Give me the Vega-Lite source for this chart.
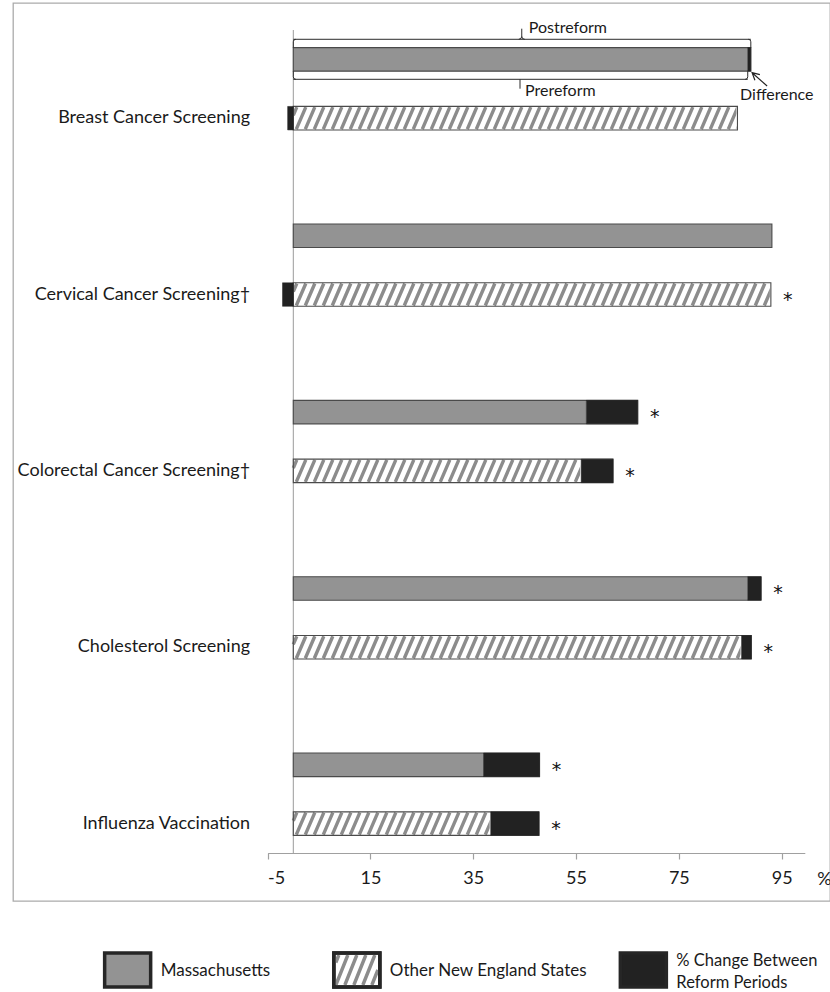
{
  "$schema": "https://vega.github.io/schema/vega-lite/v6.json",
  "padding": {"left": 12, "top": 2, "right": 0, "bottom": 0},
  "background": "white",
  "spacing": 44,
  "config": {
    "view": {"stroke": null},
    "font": "Lato",
    "axis": {"labelFont": "Lato", "titleFont": "Lato"},
    "text": {"font": "Lato"}
  },
  "datasets": {
    "bars": [
      {"cat": "Breast Cancer Screening", "grp": "Massachusetts", "base": 88.4, "c0": 88.4, "c1": 89.0, "end": 89.0, "sig": ""},
      {"cat": "Breast Cancer Screening", "grp": "Other New England States", "base": 86.4, "c0": -1.1, "c1": 0, "end": 86.4, "sig": ""},
      {"cat": "Cervical Cancer Screening†", "grp": "Massachusetts", "base": 93.1, "c0": 0, "c1": 0, "end": 93.1, "sig": ""},
      {"cat": "Cervical Cancer Screening†", "grp": "Other New England States", "base": 92.9, "c0": -2.1, "c1": 0, "end": 92.9, "sig": "*"},
      {"cat": "Colorectal Cancer Screening†", "grp": "Massachusetts", "base": 57.0, "c0": 57.0, "c1": 67.0, "end": 67.0, "sig": "*"},
      {"cat": "Colorectal Cancer Screening†", "grp": "Other New England States", "base": 56.0, "c0": 56.0, "c1": 62.2, "end": 62.2, "sig": "*"},
      {"cat": "Cholesterol Screening", "grp": "Massachusetts", "base": 88.4, "c0": 88.4, "c1": 91.0, "end": 91.0, "sig": "*"},
      {"cat": "Cholesterol Screening", "grp": "Other New England States", "base": 87.2, "c0": 87.2, "c1": 89.1, "end": 89.1, "sig": "*"},
      {"cat": "Influenza Vaccination", "grp": "Massachusetts", "base": 37.0, "c0": 37.0, "c1": 47.9, "end": 47.9, "sig": "*"},
      {"cat": "Influenza Vaccination", "grp": "Other New England States", "base": 38.4, "c0": 38.4, "c1": 47.8, "end": 47.8, "sig": "*"}
    ],
    "legend": [
      {"item": "Massachusetts", "label": "Massachusetts", "lines": 1},
      {"item": "Other New England States", "label": "Other New England States", "lines": 1},
      {"item": "% Change Between Reform Periods", "label": "% Change Between\nReform Periods", "lines": 2}
    ]
  },
  "vconcat": [
    {
      "width": 817,
      "height": 898,
      "view": {"stroke": "#ababab", "strokeWidth": 1.3},
      "data": {"name": "bars"},
      "layer": [
        {
          "data": {"values": [{"zero": 0}]},
          "mark": {"type": "tick", "color": "#9a9a9a", "thickness": 1, "size": 823, "opacity": 1},
          "encoding": {
            "x": {"field": "zero", "type": "quantitative"},
            "y": {"datum": "Colorectal Cancer Screening†", "type": "nominal", "bandPosition": 0.4915}
          }
        },
        {
          "transform": [{"filter": "datum.grp == 'Massachusetts'"}],
          "mark": {"type": "bar", "fill": "#939393", "strokeWidth": 0},
          "encoding": {
            "x": {
              "field": "base", "type": "quantitative",
              "scale": {"domain": [-5, 99.5], "range": [254.6, 791.8], "nice": false, "zero": false},
              "axis": {
                "values": [-5, 15, 35, 55, 75, 95],
                "labelExpr": "'' + datum.value",
                "offset": -48,
                "grid": false,
                "domainColor": "#a0a0a0", "domainWidth": 1.2,
                "tickColor": "#a0a0a0", "tickSize": 6, "tickWidth": 1.2,
                "labelFontSize": 18, "labelColor": "#1a1a1a", "labelPadding": 10,
                "title": "%", "titleX": 811, "titleY": 26, "titleAlign": "center",
                "titleBaseline": "middle", "titleFontSize": 18, "titleFontWeight": "normal",
                "titleColor": "#1a1a1a", "titleAngle": 0
              }
            },
            "x2": {"datum": 0},
            "y": {
              "field": "cat", "type": "nominal", "sort": null,
              "scale": {
                "type": "band",
                "domain": ["Breast Cancer Screening", "Cervical Cancer Screening†", "Colorectal Cancer Screening†", "Cholesterol Screening", "Influenza Vaccination"],
                "range": [27, 850], "paddingInner": 0.3333, "paddingOuter": 0
              },
              "axis": {
                "orient": "left", "offset": -254.6, "domain": false, "ticks": false,
                "grid": false, "labelPadding": 18, "labelOffset": 29.4,
                "labelFontSize": 18, "labelColor": "#1a1a1a", "labelLimit": 400, "title": null
              }
            },
            "yOffset": {
              "field": "grp", "type": "nominal",
              "scale": {"domain": ["Massachusetts", "Other New England States"], "paddingInner": 0.6, "paddingOuter": 0.3}
            }
          }
        },
        {
          "transform": [{"filter": "datum.grp == 'Other New England States'"}],
          "mark": {
            "type": "point", "size": 4, "filled": false, "opacity": 1,
            "stroke": "#8c8c8c", "strokeWidth": 3.4, "strokeCap": "butt",
            "shape": "M0,-2.9L3.5,-11M3,11l9.5,-22m-0.5,22l9.5,-22m-0.5,22l9.5,-22m-0.5,22l9.5,-22m-0.5,22l9.5,-22m-0.5,22l9.5,-22m-0.5,22l9.5,-22m-0.5,22l9.5,-22m-0.5,22l9.5,-22m-0.5,22l9.5,-22m-0.5,22l9.5,-22m-0.5,22l9.5,-22m-0.5,22l9.5,-22m-0.5,22l9.5,-22m-0.5,22l9.5,-22m-0.5,22l9.5,-22m-0.5,22l9.5,-22m-0.5,22l9.5,-22m-0.5,22l9.5,-22m-0.5,22l9.5,-22m-0.5,22l9.5,-22m-0.5,22l9.5,-22m-0.5,22l9.5,-22m-0.5,22l9.5,-22m-0.5,22l9.5,-22m-0.5,22l9.5,-22m-0.5,22l9.5,-22m-0.5,22l9.5,-22m-0.5,22l9.5,-22m-0.5,22l9.5,-22m-0.5,22l9.5,-22m-0.5,22l9.5,-22m-0.5,22l9.5,-22m-0.5,22l9.5,-22m-0.5,22l9.5,-22m-0.5,22l9.5,-22m-0.5,22l9.5,-22m-0.5,22l9.5,-22m-0.5,22l9.5,-22m-0.5,22l9.5,-22m-0.5,22l9.5,-22m-0.5,22l9.5,-22m-0.5,22l9.5,-22m-0.5,22l9.5,-22m-0.5,22l9.5,-22m-0.5,22l9.5,-22m-0.5,22l9.5,-22m-0.5,22l9.5,-22m-0.5,22l9.5,-22m-0.5,22l9.5,-22m-0.5,22l9.5,-22m-0.5,22l9.5,-22m-0.5,22l9.5,-22m-0.5,22l9.5,-22m-0.5,22l9.5,-22"
          },
          "encoding": {
            "x": {"datum": 0, "type": "quantitative"},
            "y": {"field": "cat", "type": "nominal"},
            "yOffset": {"field": "grp", "type": "nominal"}
          }
        },
        {
          "transform": [{"filter": "datum.grp == 'Other New England States'"}],
          "mark": {"type": "bar", "fill": "white", "stroke": "white", "strokeWidth": 2},
          "encoding": {
            "x": {"field": "base", "type": "quantitative"},
            "x2": {"datum": 99.5},
            "y": {"field": "cat", "type": "nominal"},
            "yOffset": {"field": "grp", "type": "nominal"}
          }
        },
        {
          "mark": {"type": "bar", "fillOpacity": 0, "stroke": "#4a4a4a", "strokeWidth": 1.1},
          "encoding": {
            "x": {"field": "end", "type": "quantitative"},
            "x2": {"datum": 0},
            "y": {"field": "cat", "type": "nominal"},
            "yOffset": {"field": "grp", "type": "nominal"}
          }
        },
        {
          "transform": [{"filter": "datum.c1 != datum.c0"}],
          "mark": {"type": "bar", "fill": "#222222", "stroke": "#222222", "strokeWidth": 0.5},
          "encoding": {
            "x": {"field": "c0", "type": "quantitative"},
            "x2": {"field": "c1"},
            "y": {"field": "cat", "type": "nominal"},
            "yOffset": {"field": "grp", "type": "nominal"}
          }
        },
        {
          "transform": [{"filter": "datum.sig != ''"}],
          "mark": {"type": "text", "align": "center", "baseline": "middle", "dx": 17, "dy": 5, "fontSize": 19, "font": "DejaVu Sans", "color": "#111111"},
          "encoding": {
            "x": {"field": "end", "type": "quantitative"},
            "y": {"field": "cat", "type": "nominal"},
            "yOffset": {"field": "grp", "type": "nominal"},
            "text": {"field": "sig"}
          }
        },
        {
          "transform": [{"filter": "datum.cat == 'Breast Cancer Screening' && datum.grp == 'Massachusetts'"}],
          "layer": [
            {
              "mark": {"type": "rule", "color": "#2b2b2b", "strokeWidth": 1},
              "encoding": {
                "x": {"field": "end", "type": "quantitative"},
                "x2": {"datum": 0},
                "y": {"field": "cat", "type": "nominal", "bandPosition": 0.079}
              }
            },
            {
              "mark": {"type": "rule", "color": "#2b2b2b", "strokeWidth": 1},
              "encoding": {
                "x": {"field": "base", "type": "quantitative"},
                "x2": {"datum": 0},
                "y": {"field": "cat", "type": "nominal", "bandPosition": 0.4193}
              }
            },
            {
              "mark": {"type": "point", "size": 4, "filled": false, "opacity": 1, "stroke": "#2b2b2b", "strokeWidth": 1,
                       "shape": "M0,8.4L0,2.5Q0,0 -2.5,0"},
              "encoding": {
                "x": {"field": "end", "type": "quantitative"},
                "y": {"field": "cat", "type": "nominal", "bandPosition": 0.079}
              }
            },
            {
              "mark": {"type": "point", "size": 4, "filled": false, "opacity": 1, "stroke": "#2b2b2b", "strokeWidth": 1,
                       "shape": "M0,8.4L0,2.5Q0,0 2.5,0"},
              "encoding": {
                "x": {"datum": 0, "type": "quantitative"},
                "y": {"field": "cat", "type": "nominal", "bandPosition": 0.079}
              }
            },
            {
              "mark": {"type": "point", "size": 4, "filled": false, "opacity": 1, "stroke": "#2b2b2b", "strokeWidth": 1,
                       "shape": "M-3,0Q0,0 0,-3L0,-10.6M0,-3Q0,0 3,0"},
              "encoding": {
                "x": {"datum": 44.44, "type": "quantitative"},
                "y": {"field": "cat", "type": "nominal", "bandPosition": 0.079}
              }
            },
            {
              "mark": {"type": "point", "size": 4, "filled": false, "opacity": 1, "stroke": "#2b2b2b", "strokeWidth": 1,
                       "shape": "M0,-8.1L0,-2.5Q0,0 -2.5,0"},
              "encoding": {
                "x": {"field": "base", "type": "quantitative"},
                "y": {"field": "cat", "type": "nominal", "bandPosition": 0.4193}
              }
            },
            {
              "mark": {"type": "point", "size": 4, "filled": false, "opacity": 1, "stroke": "#2b2b2b", "strokeWidth": 1,
                       "shape": "M0,-8.1L0,-2.5Q0,0 2.5,0"},
              "encoding": {
                "x": {"datum": 0, "type": "quantitative"},
                "y": {"field": "cat", "type": "nominal", "bandPosition": 0.4193}
              }
            },
            {
              "mark": {"type": "point", "size": 4, "filled": false, "opacity": 1, "stroke": "#2b2b2b", "strokeWidth": 1,
                       "shape": "M0,0L0,9.4"},
              "encoding": {
                "x": {"datum": 44.1, "type": "quantitative"},
                "y": {"field": "cat", "type": "nominal", "bandPosition": 0.4193}
              }
            },
            {
              "mark": {"type": "text", "text": "Postreform", "align": "left", "baseline": "middle", "dx": 7, "dy": -2.5, "fontSize": 16, "color": "#1a1a1a"},
              "encoding": {
                "x": {"datum": 44.44, "type": "quantitative"},
                "y": {"field": "cat", "type": "nominal", "bandPosition": 0}
              }
            },
            {
              "mark": {"type": "text", "text": "Prereform", "align": "left", "baseline": "middle", "dx": 5, "fontSize": 16, "color": "#1a1a1a"},
              "encoding": {
                "x": {"datum": 44.1, "type": "quantitative"},
                "y": {"field": "cat", "type": "nominal", "bandPosition": 0.5188}
              }
            },
            {
              "mark": {"type": "text", "text": "Difference", "align": "left", "baseline": "middle", "fontSize": 16, "color": "#1a1a1a"},
              "encoding": {
                "x": {"datum": 86.9, "type": "quantitative"},
                "y": {"field": "cat", "type": "nominal", "bandPosition": 0.5554}
              }
            },
            {
              "mark": {"type": "point", "size": 4, "filled": false, "opacity": 1, "stroke": "#222222", "strokeWidth": 1.2,
                       "shape": "M15,13.3L0,0M2.8,7.5L0,0L7.8,1.9"},
              "encoding": {
                "x": {"datum": 89.25, "type": "quantitative"},
                "y": {"field": "cat", "type": "nominal", "bandPosition": 0.3632}
              }
            }
          ]
        }
      ]
    },
    {
      "width": 817,
      "height": 40,
      "data": {"name": "legend"},
      "layer": [
        {
          "mark": {"type": "point", "size": 4, "filled": true, "opacity": 1, "stroke": "#262626", "strokeWidth": 3.5,
                   "shape": "M-23,-17H23V17H-23Z"},
          "encoding": {
            "x": {
              "field": "item", "type": "nominal",
              "scale": {
                "type": "band",
                "domain": ["Massachusetts", "s1", "s2", "s3", "Other New England States", "s4", "s5", "s6", "s7", "% Change Between Reform Periods"],
                "range": [86, 659], "paddingInner": 0, "paddingOuter": 0
              },
              "axis": null
            },
            "fill": {
              "field": "item", "type": "nominal",
              "scale": {"domain": ["Massachusetts", "Other New England States", "% Change Between Reform Periods"], "range": ["#939393", "#ffffff", "#222222"]},
              "legend": null
            }
          }
        },
        {
          "transform": [{"filter": "datum.item == 'Other New England States'"}],
          "mark": {"type": "point", "size": 4, "filled": false, "opacity": 1, "stroke": "#8c8c8c", "strokeWidth": 3.4,
                   "shape": "M-21,-7.5L-18,-15M-21,15L-9,-15M-12,15L0,-15M-3,15L9,-15M6,15L18,-15M15,15L21,0"},
          "encoding": {"x": {"field": "item", "type": "nominal"}}
        },
        {
          "transform": [{"filter": "datum.item == 'Other New England States'"}],
          "mark": {"type": "point", "size": 4, "filled": false, "opacity": 1, "stroke": "#262626", "strokeWidth": 3.5,
                   "shape": "M-23,-17H23V17H-23Z"},
          "encoding": {"x": {"field": "item", "type": "nominal"}}
        },
        {
          "transform": [{"filter": "datum.lines == 1"}],
          "mark": {"type": "text", "align": "left", "baseline": "middle", "dx": 33, "dy": 1, "fontSize": 17, "color": "#1a1a1a"},
          "encoding": {
            "x": {"field": "item", "type": "nominal"},
            "text": {"field": "label"}
          }
        },
        {
          "transform": [{"filter": "datum.lines == 2"}],
          "mark": {"type": "text", "align": "left", "baseline": "middle", "dx": 33, "dy": -9, "fontSize": 16.5, "lineBreak": "\n", "lineHeight": 22, "color": "#1a1a1a"},
          "encoding": {
            "x": {"field": "item", "type": "nominal"},
            "text": {"field": "label"}
          }
        }
      ]
    }
  ]
}
